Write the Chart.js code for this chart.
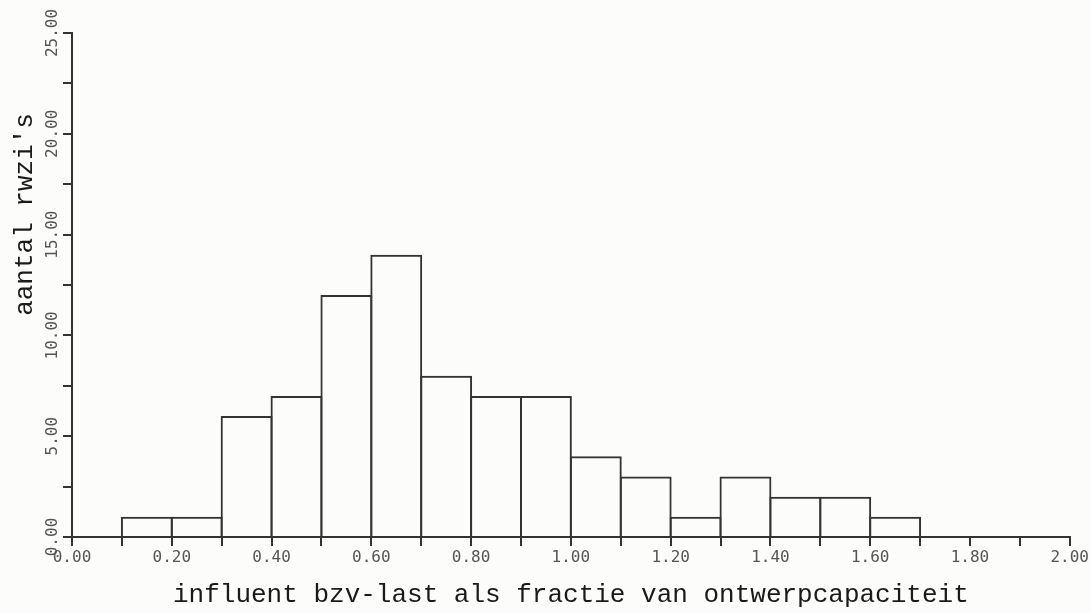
<!DOCTYPE html>
<html>
<head>
<meta charset="utf-8">
<script src="https://cdn.jsdelivr.net/npm/chart.js@4"></script>
<style>
  html, body { margin: 0; padding: 0; background: #fcfcfa; }
  #wrap { width: 1091px; height: 613px; }
</style>
</head>
<body>
<div id="wrap"><canvas id="hist"></canvas></div>
<script>
// Histogram data
const binStarts = [0.1, 0.2, 0.3, 0.4, 0.5, 0.6, 0.7, 0.8, 0.9, 1.0, 1.1, 1.2, 1.3, 1.4, 1.5, 1.6];
const binWidth = 0.1;
const counts = [1, 1, 6, 7, 12, 14, 8, 7, 7, 4, 3, 1, 3, 2, 2, 1];
const yLabelValues = [0, 5, 10, 15, 20, 25];

const xTitle = 'influent bzv-last als fractie van ontwerpcapaciteit';
const yTitle = "aantal rwzi's";

const ink = '#333';
const labelFont = '16px "DejaVu Sans Mono"';
const titleFont = '26px "Liberation Mono"';

// Chart.js can't rotate y tick labels, so draw them (and the y title) here
const rotatedYText = {
    id: 'rotatedYText',
    afterDraw(chart) {
        const { ctx, chartArea } = chart;
        const yScale = chart.scales.y;
        ctx.save();
        ctx.fillStyle = '#555';
        ctx.font = labelFont;
        ctx.textAlign = 'center';
        ctx.textBaseline = 'middle';
        yLabelValues.forEach(v => {
            const py = yScale.getPixelForValue(v);
            ctx.save();
            ctx.translate(chartArea.left - 19, py);
            ctx.rotate(-Math.PI / 2);
            ctx.fillText(v.toFixed(2), 0, 0);
            ctx.restore();
        });
        // axis title sits above the middle of the axis in the original
        ctx.fillStyle = '#1a1a1a';
        ctx.font = titleFont;
        ctx.translate(chartArea.left - 47, chartArea.top + chartArea.height * 0.36);
        ctx.rotate(-Math.PI / 2);
        ctx.fillText(yTitle, 0, 0);
        ctx.restore();
    }
};

const ctx = document.getElementById('hist').getContext('2d');
new Chart(ctx, {
    type: 'bar',
    data: {
        datasets: [{
            data: binStarts.map((s, i) => ({ x: s + binWidth / 2, y: counts[i] })),
            backgroundColor: 'rgba(0,0,0,0)',
            borderColor: ink,
            borderWidth: 2,
            // bars a touch wider than the bin so neighbouring borders coincide (single line)
            barPercentage: 1.04,
            categoryPercentage: 1,
        }],
    },
    options: {
        responsive: true,
        maintainAspectRatio: false,
        animation: false,
        layout: { padding: { top: 33, right: 19, left: 0, bottom: 0 } },
        plugins: {
            legend: { display: false },
            tooltip: { enabled: false },
        },
        scales: {
            x: {
                type: 'linear',
                min: 0,
                max: 2,
                offset: false,
                afterFit: s => { s.height = 76; },
                grid: {
                    drawOnChartArea: false,
                    drawTicks: true,
                    tickLength: 9,
                    color: ink,
                    lineWidth: 2,
                    offset: false,
                },
                border: { display: true, color: ink, width: 2 },
                ticks: {
                    stepSize: 0.1,
                    autoSkip: false,
                    maxRotation: 0,
                    color: '#555',
                    font: { family: 'DejaVu Sans Mono', size: 16 },
                    padding: 2,
                    callback: v => (Math.round(v * 10) % 2 === 0 ? v.toFixed(2) : ''),
                },
                title: {
                    display: true,
                    text: xTitle,
                    color: '#1a1a1a',
                    font: { family: 'Liberation Mono', size: 26 },
                    padding: { top: 0, bottom: 2 },
                },
            },
            y: {
                min: 0,
                max: 25,
                afterFit: s => { s.width = 72; },
                grid: {
                    drawOnChartArea: false,
                    drawTicks: true,
                    tickLength: 9,
                    color: ink,
                    lineWidth: 2,
                },
                border: { display: true, color: ink, width: 2 },
                ticks: {
                    stepSize: 2.5,
                    callback: () => '',
                },
            },
        },
    },
    plugins: [rotatedYText],
});
</script>
</body>
</html>
